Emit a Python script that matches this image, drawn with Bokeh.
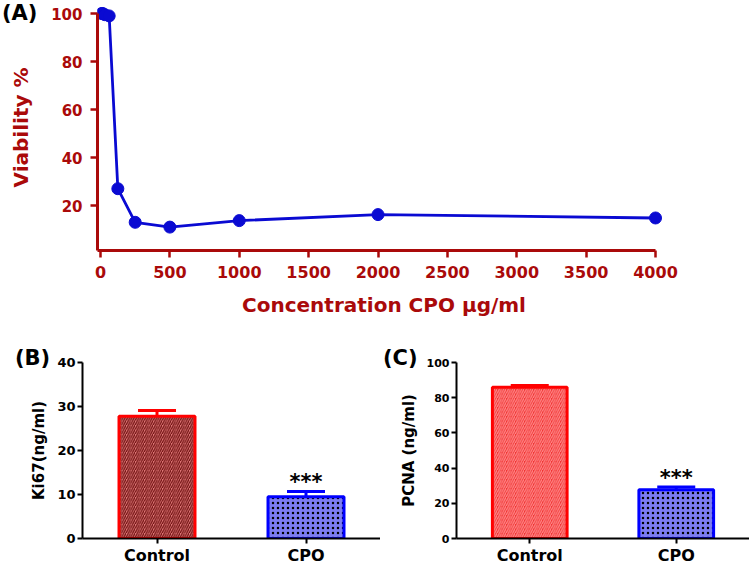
from bokeh.plotting import figure
from bokeh.models import Range1d, FactorRange, FixedTicker, Whisker, TeeHead, ColumnDataSource, Div
from bokeh.layouts import column, row
from bokeh.core.properties import value
from bokeh.embed import file_html
from bokeh.resources import INLINE

# ---------------- data ----------------
# Panel A: cell viability vs concentration
conc = [7.8, 15.6, 31.25, 62.5, 125, 250, 500, 1000, 2000, 4000]
viability = [100, 100, 99.5, 99, 27, 13, 11, 13.7, 16.2, 14.8]
a_x_ticks = [0, 500, 1000, 1500, 2000, 2500, 3000, 3500, 4000]
a_y_ticks = [20, 40, 60, 80, 100]

# Panels B and C
groups = ["Control", "CPO"]
ki67 = [27.8, 9.5]
ki67_err = [1.3, 1.2]
pcna = [86.0, 27.7]
pcna_err = [1.0, 1.5]
signif = ["", "***"]
b_y_ticks = [0, 10, 20, 30, 40]
c_y_ticks = [0, 20, 40, 60, 80, 100]
panel_letters = ["(A)", "(B)", "(C)"]

# ---------------- styles ----------------
DR = "#AA0A0A"
BLUE = "#0A0AD2"
FONT = "DejaVu Sans"

# ---------------- panel A ----------------
XA0 = -21.6
pA = figure(width=749, height=335, x_range=Range1d(XA0, 4108), y_range=Range1d(1.25, 103.75),
            output_backend="svg", toolbar_location=None, min_border_left=97, min_border_right=79,
            min_border_top=4, min_border_bottom=85, outline_line_color=None)
pA.grid.visible = False
pA.line(conc, viability, line_color=BLUE, line_width=2.8)
pA.scatter(conc, viability, size=12, fill_color=BLUE, line_color=BLUE)

for ax in (pA.xaxis[0], pA.yaxis[0]):
    ax.axis_line_color = DR
    ax.axis_line_width = 3
    ax.major_tick_line_color = DR
    ax.major_tick_line_width = 2.5
    ax.major_tick_out = 7
    ax.major_tick_in = 0
    ax.minor_tick_line_color = None
    ax.major_label_text_color = DR
    ax.major_label_text_font = FONT
    ax.major_label_text_font_style = "bold"
    ax.axis_label_text_color = DR
    ax.axis_label_text_font = FONT
    ax.axis_label_text_font_style = "bold"
    ax.axis_label_text_font_size = "20px"
    ax.major_label_standoff = 8

pA.xaxis.ticker = FixedTicker(ticks=a_x_ticks)
pA.yaxis.ticker = FixedTicker(ticks=a_y_ticks)
pA.xaxis.major_label_text_font_size = "16px"
pA.yaxis.major_label_text_font_size = "15px"
pA.xaxis.axis_label = "Concentration CPO µg/ml"
pA.yaxis.axis_label = "Viability %"
pA.xaxis.axis_label_standoff = 12
pA.yaxis.axis_label_standoff = 15
pA.yaxis.bounds = (1.25, 100)
pA.xaxis.bounds = (XA0, 4000)


# ---------------- panels B, C ----------------
def bar_panel(width, mb_left, mb_top, mb_bottom, vals, errs, ymax, yticks, ylabel,
              tick_font, ctrl_fill, ctrl_hatch, star_off):
    p = figure(width=width, height=232, x_range=FactorRange(factors=groups),
               y_range=Range1d(0, ymax), output_backend="svg", toolbar_location=None,
               min_border_left=mb_left, min_border_right=0, min_border_top=mb_top,
               min_border_bottom=mb_bottom, outline_line_color=None)
    p.grid.visible = False
    upper = [v + e for v, e in zip(vals, errs)]
    src = ColumnDataSource(dict(x=groups, top=vals, upper=upper, stars=signif))
    # Control bar: diagonal hatch ; CPO bar: checker-like hatch
    p.vbar(x=groups[0:1], top=vals[0:1], width=0.51, fill_color=ctrl_fill, line_color="#FF0000",
           line_width=3, hatch_pattern="right_diagonal_line", hatch_color=ctrl_hatch,
           hatch_scale=4.5, hatch_weight=1.2)
    p.vbar(x=groups[1:2], top=vals[1:2], width=0.51, fill_color="#7C7CF2", line_color="#0000FF",
           line_width=3, hatch_pattern="dot", hatch_color="black",
           hatch_scale=5, hatch_weight=3.6)
    for i in range(len(groups)):
        one = ColumnDataSource(dict(x=[groups[i]], lower=[vals[i]], upper=[upper[i]]))
        col = ["#FF0000", "#0000FF"][i]
        p.add_layout(Whisker(base="x", lower="lower", upper="upper", source=one,
                             dimension="height", line_color=col, line_width=3,
                             upper_head=TeeHead(size=38, line_color=col, line_width=3),
                             lower_head=None))
    p.text(x="x", y="upper", text="stars", source=src, text_align="center",
           text_baseline="alphabetic", y_offset=star_off, text_font=value(FONT),
           text_font_style="bold", text_font_size="21px", text_color="black")

    for ax in (p.xaxis[0], p.yaxis[0]):
        ax.axis_line_color = "black"
        ax.axis_line_width = 2
        ax.major_tick_line_color = "black"
        ax.major_tick_line_width = 2
        ax.major_tick_out = 5
        ax.major_tick_in = 0
        ax.minor_tick_line_color = None
        ax.major_label_text_color = "black"
        ax.major_label_text_font = FONT
        ax.major_label_text_font_style = "bold"
        ax.axis_label_text_color = "black"
        ax.axis_label_text_font = FONT
        ax.axis_label_text_font_style = "bold"
    p.yaxis.ticker = FixedTicker(ticks=yticks)
    p.yaxis.major_label_text_font_size = tick_font
    p.yaxis.major_label_standoff = 2
    p.yaxis.axis_label = ylabel
    p.yaxis.axis_label_text_font_size = "15px"
    p.yaxis.axis_label_standoff = 6
    p.xaxis.major_label_text_font_size = "16px"
    p.xaxis.major_label_standoff = 2
    return p


pB = bar_panel(380, 82, 27, 28, ki67, ki67_err, 40, b_y_ticks, "Ki67(ng/ml)", "13px",
               "#E07878", "#6E1010", -9)
pC = bar_panel(369, 76, 20, 25, pcna, pcna_err, 100, c_y_ticks, "PCNA (ng/ml)", "11px",
               "#F03232", "#FF8A8A", -9)


def letter_div(txt, left, top):
    return Div(text=txt, width=45, height=26, margin=0,
               styles={"position": "absolute", "left": f"{left}px", "top": f"{top}px",
                       "font-family": "'DejaVu Sans'", "font-weight": "bold",
                       "font-size": "21px", "line-height": "1", "color": "black"})


divs = [letter_div(panel_letters[0], 2, 3), letter_div(panel_letters[1], 15, 348),
        letter_div(panel_letters[2], 383, 348)]

layout = column(pA, row(pB, pC), *divs)
open("out.html", "w").write(file_html(layout, INLINE))
